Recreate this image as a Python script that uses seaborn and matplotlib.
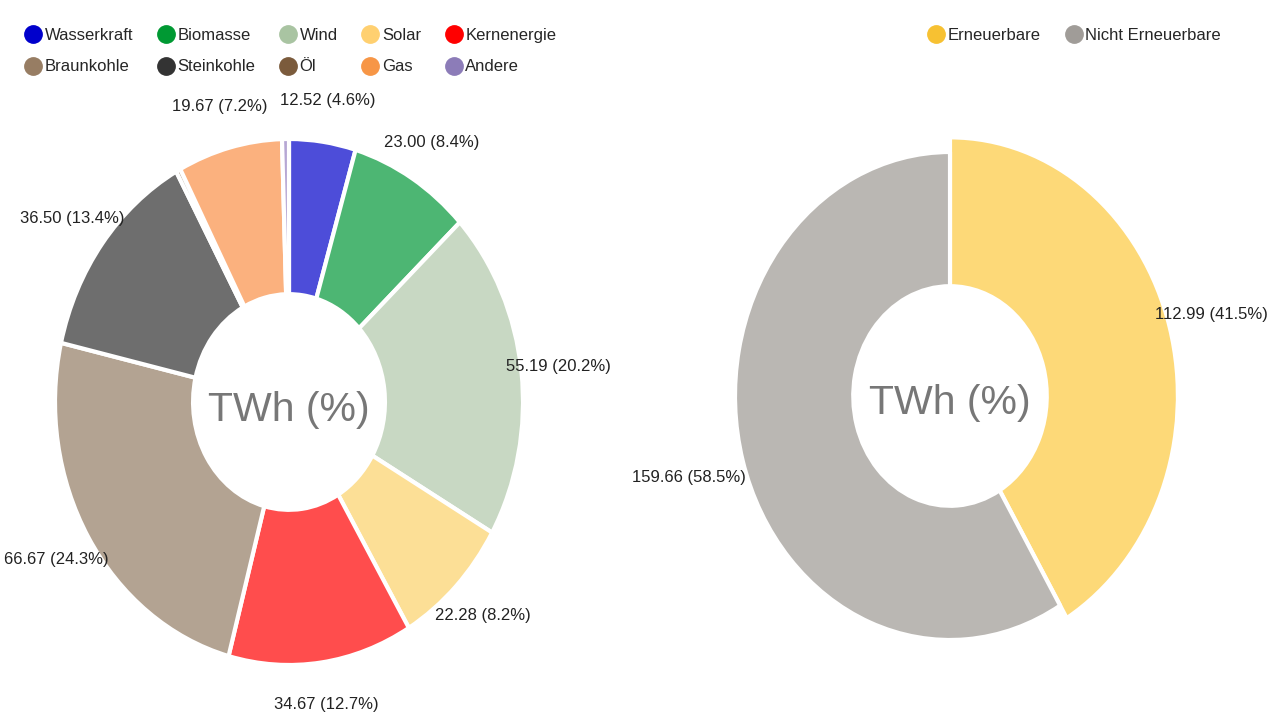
import matplotlib
matplotlib.use("Agg")
import matplotlib.pyplot as plt
from matplotlib.lines import Line2D
import seaborn as sns

sns.set_theme(style="white")
plt.rcParams["font.family"] = ["Liberation Sans", "DejaVu Sans"]

# ---- data ----
sources = ["Wasserkraft", "Biomasse", "Wind", "Solar", "Kernenergie",
           "Braunkohle", "Steinkohle", "Öl", "Gas", "Andere"]
twh = [12.52, 23.00, 55.19, 22.28, 34.67, 66.67, 36.50, 0.85, 19.67, 1.30]
pct = ["4.6", "8.4", "20.2", "8.2", "12.7", "24.3", "13.4", None, "7.2", None]
slice_colors = ["#4d4dd9", "#4db673", "#c8d8c3", "#fcdf96", "#ff4d4d",
                "#b3a392", "#6e6e6e", "#9c8870", "#fbb17e", "#b6a7d4"]
legend_colors = ["#0000cc", "#009933", "#a9c4a2", "#ffd070", "#ff0000",
                 "#977d63", "#333333", "#7b5b3c", "#f79646", "#8c7cb8"]

groups = ["Erneuerbare", "Nicht Erneuerbare"]
group_twh = [112.99, 159.66]
group_pct = ["41.5", "58.5"]
group_slice_colors = ["#fdd978", "#bab7b3"]
group_legend_colors = ["#f7c132", "#a09c98"]

W, H = 1280, 722
fig = plt.figure(figsize=(W / 100, H / 100), dpi=100)
L = 1.45


def place_axes(cx, cy, rx, ry):
    ax = fig.add_axes([(cx - rx * L) / W, 1 - (cy + ry * L) / H,
                       2 * rx * L / W, 2 * ry * L / H])
    ax.axis("off")
    return ax


def finish(ax):
    ax.set_aspect("auto")
    ax.set_xlim(-L, L)
    ax.set_ylim(-L, L)
    ax.text(0, -0.03, "TWh (%)", ha="center", va="center", fontsize=29.5, color="#777777")


def make_labels(vals, pcts):
    return ["" if p is None else f"{v:.2f} ({p}%)" for v, p in zip(vals, pcts)]


# ---- left donut ----
ax1 = place_axes(289, 402, 234, 263)
wedges, texts = ax1.pie(twh, colors=slice_colors, startangle=90, counterclock=False,
                        radius=1.0, labels=make_labels(twh, pct), labeldistance=1.16,
                        wedgeprops=dict(width=0.59, edgecolor="white", linewidth=3,
                                        joinstyle="round"),
                        textprops=dict(fontsize=12, color="#222222"))
for t in texts:
    t.set_ha("center")
    t.set_va("center")
finish(ax1)

# ---- right donut ----
ax2 = place_axes(950, 396, 215, 244)
wedges2, texts2 = ax2.pie(group_twh, colors=group_slice_colors, startangle=90,
                          counterclock=False, radius=1.0,
                          labels=make_labels(group_twh, group_pct), labeldistance=1.26,
                          wedgeprops=dict(width=0.55, edgecolor="white", linewidth=3,
                                          joinstyle="round"),
                          textprops=dict(fontsize=12, color="#222222"))
wedges2[0].set_radius(1.06)
wedges2[0].set_width(0.61)
for t in texts2:
    t.set_ha("center")
    t.set_va("center")
finish(ax2)

# ---- legends ----
def handles(cols):
    return [Line2D([], [], marker="o", ls="", markersize=12.5, color=c) for c in cols]

order = []
for c in range(5):
    order += [c, c + 5]
h1 = handles(legend_colors)
fig.legend([h1[i] for i in order], [sources[i] for i in order],
           loc="upper left", bbox_to_anchor=(25 / W, 1 - 28 / H), ncol=5,
           frameon=False, fontsize=12, handlelength=1.0, handletextpad=0.2,
           columnspacing=1.45, labelspacing=0.98, borderpad=0, borderaxespad=0)
fig.legend(handles(group_legend_colors), groups,
           loc="upper left", bbox_to_anchor=(928 / W, 1 - 28 / H), ncol=2,
           frameon=False, fontsize=12, handlelength=1.0, handletextpad=0.2,
           columnspacing=1.45, borderpad=0, borderaxespad=0)

fig.savefig("out.png", dpi=100, facecolor="white")
